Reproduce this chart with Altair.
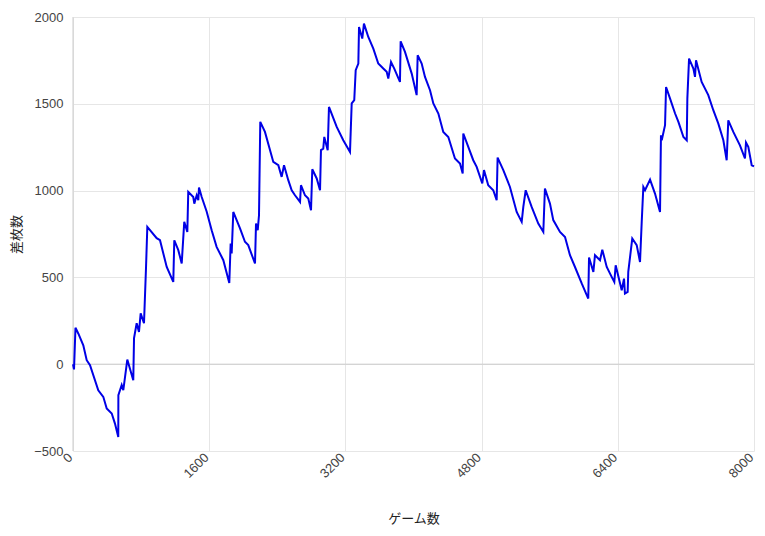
import altair as alt
import pandas as pd

games = [0, 12, 29, 62, 121, 161, 200, 297, 356, 396, 455, 493, 532, 533, 572, 591, 638, 708, 717, 748,
         775, 795, 834, 858, 873, 983, 1022, 1101, 1178, 1190, 1237, 1277, 1307, 1343, 1354, 1413, 1425,
         1453, 1472, 1480, 1512, 1570, 1629, 1687, 1766, 1836, 1852, 1864, 1883, 1962, 2020, 2059, 2138,
         2150, 2170, 2185, 2200, 2255, 2353, 2412, 2451, 2479, 2529, 2569, 2608, 2667, 2678, 2725, 2764,
         2796, 2811, 2863, 2902, 2913, 2940, 2952, 2992, 3007, 3098, 3175, 3254, 3274, 3304, 3321, 3352,
         3360, 3398, 3418, 3469, 3528, 3586, 3645, 3685, 3704, 3736, 3774, 3841, 3849, 3900, 3979, 4037,
         4049, 4096, 4135, 4194, 4233, 4292, 4350, 4409, 4487, 4546, 4578, 4585, 4702, 4742, 4808, 4828,
         4878, 4937, 4977, 4988, 5055, 5133, 5212, 5271, 5290, 5318, 5388, 5466, 5525, 5544, 5603, 5642,
         5721, 5780, 5838, 5897, 5976, 6053, 6062, 6113, 6132, 6191, 6218, 6270, 6328, 6359, 6375, 6446,
         6473, 6484, 6516, 6523, 6570, 6622, 6661, 6681, 6700, 6720, 6779, 6837, 6896, 6907, 6916, 6955,
         6967, 7014, 7073, 7112, 7171, 7210, 7217, 7237, 7288, 7307, 7319, 7385, 7463, 7522, 7581, 7640,
         7679, 7698, 7757, 7835, 7894, 7906, 7933, 7973, 8000]
values = [0, -30, 210, 177, 109, 23, -6, -150, -188, -255, -284, -342, -419, -178, -120, -150, 27, -92, 150, 236,
          186, 293, 236, 560, 791, 726, 714, 560, 474, 714, 657, 580, 820, 762, 993, 963, 925,
          973, 945, 1018, 963, 880, 772, 676, 599, 468, 695, 638, 877, 782, 705, 686, 580,
          810, 772, 858, 1396, 1338, 1165, 1146, 1079, 1146, 1060, 1002, 973, 935, 1031, 973, 954,
          887, 1123, 1070, 1002, 1233, 1242, 1309, 1233, 1482, 1367, 1290, 1223, 1502, 1521, 1694, 1732,
          1943, 1876, 1962, 1885, 1818, 1732, 1703, 1684, 1645, 1741, 1703, 1626, 1860, 1799, 1674, 1550,
          1780, 1732, 1655, 1578, 1502, 1444, 1338, 1309, 1185, 1156, 1098, 1329, 1175, 1137, 1041, 1118,
          1031, 1002, 945, 1190, 1118, 1021, 877, 820, 906, 1002, 906, 810, 762, 1012, 925, 830,
          762, 733, 628, 560, 465, 378, 615, 532, 628, 599, 660, 560, 503, 474, 570, 426,
          493, 407, 416, 532, 724, 686, 589, 820, 1021, 1002, 1063, 983, 877, 1319, 1290, 1377,
          1597, 1530, 1444, 1396, 1309, 1290, 1530, 1760, 1703, 1655, 1751, 1626, 1550, 1463, 1386, 1290,
          1175, 1405, 1338, 1261, 1185, 1277, 1252, 1146, 1140]

x_ticks = [0, 1600, 3200, 4800, 6400, 8000]
y_ticks = [-500, 0, 500, 1000, 1500, 2000]

df = pd.DataFrame({"games": games, "diff": values})

FONT = "Arial, Liberation Sans, Noto Sans CJK JP"

x = alt.X("games:Q", title="ゲーム数",
          scale=alt.Scale(domain=[0, 8000], nice=False),
          axis=alt.Axis(values=x_ticks, format="d", labelAngle=-45, labelAlign="right",
                        labelBaseline="middle", labelPadding=4, labelOffset=-3, ticks=False, domain=False,
                        gridColor="#e6e6e6", labelFontSize=13, labelColor="#444", labelFont=FONT,
                        titleFont=FONT, titleFontSize=13, titleColor="#222", titleFontWeight="normal",
                        titleY=61, titleBaseline="top"))
y = alt.Y("diff:Q", title="差枚数",
          scale=alt.Scale(domain=[-500, 2000], nice=False),
          axis=alt.Axis(values=y_ticks, format="d", ticks=False, domain=False, gridColor="#e6e6e6",
                        labelPadding=10, labelFontSize=13, labelColor="#444", labelFont=FONT,
                        titleFont=FONT, titleFontSize=13, titleColor="#222", titleFontWeight="normal",
                        titleX=-57, titleBaseline="middle"))

line = alt.Chart(df).mark_line(color="#0000e6", strokeWidth=2).encode(x=x, y=y)

base_df = pd.DataFrame({"v": [0]})
zero_y = alt.Chart(base_df).mark_rule(color="#cccccc", strokeWidth=1).encode(y=alt.Y("v:Q"))
zero_x = alt.Chart(base_df).mark_rule(color="#cccccc", strokeWidth=1).encode(x=alt.X("v:Q"))

chart = alt.layer(zero_y, zero_x, line).properties(
    width=681, height=434,
    autosize=alt.AutoSizeParams(type="none"),
    padding={"left": 65, "top": 9, "right": 3, "bottom": 82},
).configure_view(stroke=None)

chart.save("out.html", embed_options={"renderer": "svg", "actions": False})
